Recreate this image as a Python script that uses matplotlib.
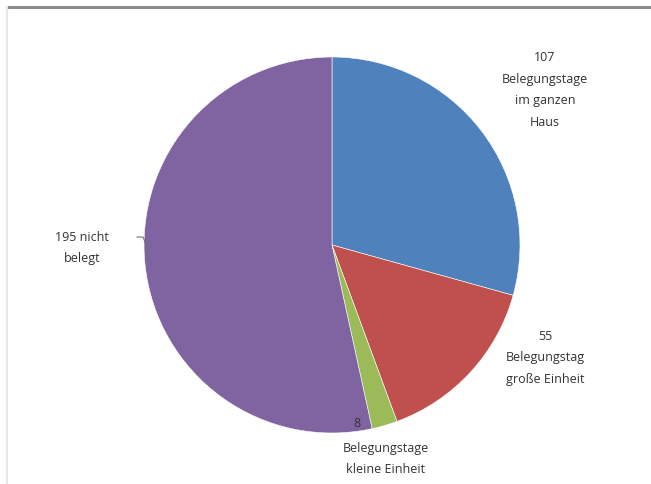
import matplotlib
matplotlib.use("Agg")
import matplotlib.pyplot as plt
from matplotlib.lines import Line2D

categories = ["Belegungstage\nim ganzen\nHaus", "Belegungstag\ngroße Einheit",
              "Belegungstage\nkleine Einheit", "nicht\nbelegt"]
values = [107, 55, 8, 195]
colors = ["#4F81BD", "#C0504D", "#9BBB59", "#8064A2"]

W, H = 651, 485
fig = plt.figure(figsize=(W / 100, H / 100), dpi=100)
fig.patch.set_facecolor("white")

cx, cy, r = 332, 246, 188
ax = fig.add_axes([(cx - r) / W, (H - cy - r) / H, 2 * r / W, 2 * r / H])
ax.pie(values, colors=colors, startangle=90, counterclock=False, radius=1,
       wedgeprops=dict(edgecolor="white", linewidth=0.4))
ax.set_xlim(-1, 1)
ax.set_ylim(-1, 1)
ax.set_aspect("equal")
ax.axis("off")

def d(px, py):
    return ((px - cx) / r, (cy - py) / r)

font = dict(family=["Open Sans", "DejaVu Sans"], fontsize=9, color="#333333",
            ha="center", va="center", linespacing=1.85)

ax.text(*d(545, 90), f"{values[0]}\n{categories[0]}", clip_on=False, **font)
ax.text(*d(545, 358), f"{values[1]}\n{categories[1]}", clip_on=False, **font)
ax.text(*d(357, 424), f"{values[2]}", clip_on=False, **font)
ax.text(*d(386, 459), categories[2], clip_on=False, **font)
ax.text(*d(82, 248), f"{values[3]} {categories[3]}", clip_on=False, **font)

# leader line for purple label
p = [d(137, 238), d(143, 238), d(147, 248), d(148, 262)]
ax.add_line(Line2D([q[0] for q in p], [q[1] for q in p], color="#707070",
                   lw=0.8, clip_on=False))

# chart frame
fig.add_artist(Line2D([7 / W, 1.0], [1 - 8 / H, 1 - 8 / H], transform=fig.transFigure,
                      color="#8c8c8c", lw=2.2))
fig.add_artist(Line2D([7 / W, 7 / W], [1 - 8 / H, 0.0], transform=fig.transFigure,
                      color="#e6e6e6", lw=1.5))

fig.savefig("out.png", dpi=100, facecolor="white")
